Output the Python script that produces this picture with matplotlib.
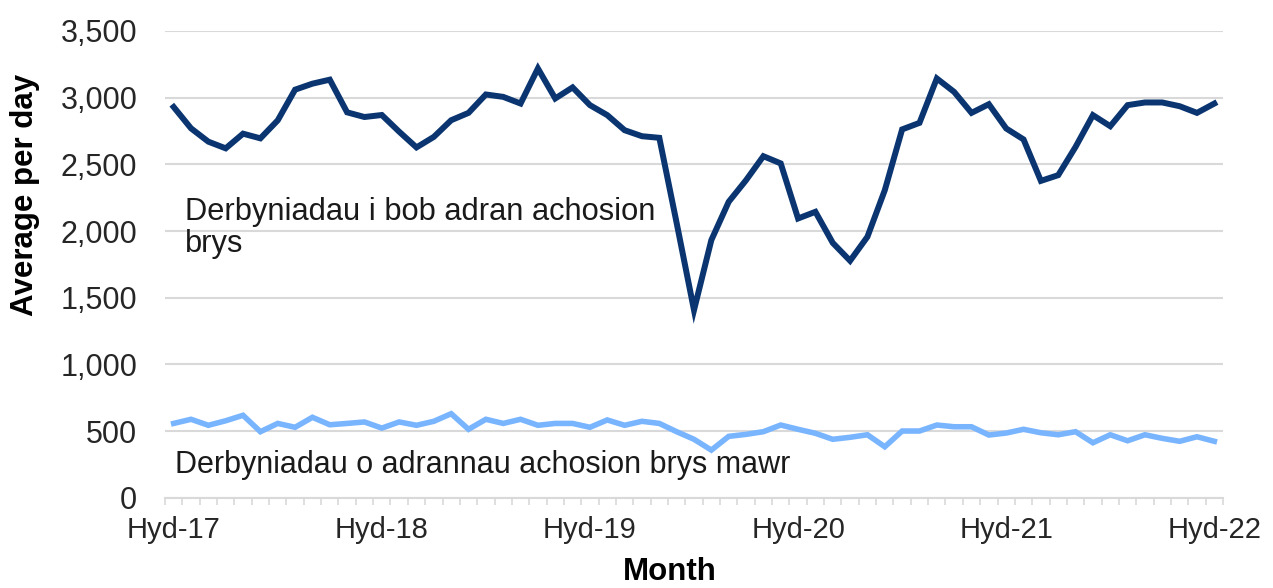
import numpy as np
import matplotlib
matplotlib.use("Agg")
import matplotlib.pyplot as plt
from matplotlib.ticker import FuncFormatter, MultipleLocator

plt.rcParams['font.family'] = ['Liberation Sans', 'DejaVu Sans']

# Monthly values, Hyd-17 (Oct 2017) to Hyd-22 (Oct 2022)
all_ed = [2930, 2770, 2670, 2620, 2730, 2695, 2830, 3060, 3105, 3135,
          2890, 2855, 2870, 2745, 2627, 2706, 2831, 2886, 3024, 3006,
          2956, 3219, 2994, 3077, 2944, 2869, 2756, 2711, 2699, 2060,
          1407, 1932, 2219, 2381, 2561, 2507, 2094, 2144, 1911, 1777,
          1957, 2306, 2762, 2811, 3144, 3043, 2886, 2951, 2769, 2687,
          2376, 2419, 2631, 2869, 2786, 2944, 2964, 2964, 2936, 2886,
          2956]
major_ed = [557, 588, 543, 577, 618, 495, 557, 528, 603, 547,
            557, 568, 522, 568, 543, 573, 630, 513, 588, 557,
            588, 543, 557, 557, 528, 583, 543, 573, 557, 495,
            438, 357, 460, 475, 495, 545, 513, 483, 438, 453,
            472, 382, 500, 500, 545, 532, 532, 470, 485, 513,
            487, 472, 495, 412, 472, 427, 472, 445, 423, 457,
            423]
tick_pos = [0, 12, 24, 36, 48, 60]
tick_labels = ['Hyd-17', 'Hyd-18', 'Hyd-19', 'Hyd-20', 'Hyd-21', 'Hyd-22']

label_all = 'Derbyniadau i bob adran achosion\nbrys'
label_major = 'Derbyniadau o adrannau achosion brys mawr'

fig = plt.figure(figsize=(12.73, 5.88), dpi=100)
ax = fig.add_axes([165 / 1273, 1 - 497.7 / 588, (1223 - 165) / 1273, (497.7 - 31) / 588])

x = np.arange(len(all_ed))
ax.plot(x, all_ed, color='#0A3570', lw=4.3, solid_joinstyle='miter', zorder=3)
ax.plot(x, major_ed, color='#79B5FF', lw=4.0, solid_joinstyle='miter', zorder=3)

ax.set_xlim(-0.5, len(all_ed) - 0.5)
ax.set_ylim(0, 3500)
ax.yaxis.set_major_locator(MultipleLocator(500))
ax.yaxis.set_major_formatter(FuncFormatter(lambda v, p: f'{int(v):,}'))
ax.grid(axis='y', color='#D9D9D9', lw=1.5, zorder=0)
ax.set_axisbelow(True)

ax.set_xticks(tick_pos)
ax.set_xticklabels(tick_labels)
ax.set_xticks(np.arange(-0.5, len(all_ed)), minor=True)
ax.tick_params(axis='x', which='major', length=0, pad=13, labelsize=21, labelcolor='#262626')
ax.tick_params(axis='x', which='minor', length=5, width=1.2, color='#D9D9D9', direction='out')
ax.tick_params(axis='y', length=0, pad=20, labelsize=22, labelcolor='#262626')

for side in ['top', 'right', 'left']:
    ax.spines[side].set_visible(False)
ax.spines['bottom'].set_color('#D9D9D9')
ax.spines['bottom'].set_linewidth(1.5)

ax.text(0.64, 2255, label_all, fontsize=22.2, color='#1a1a1a', va='top', ha='left', linespacing=1.08)
ax.text(0.05, 245, label_major, fontsize=22, color='#1a1a1a', va='center', ha='left')

fig.text(25 / 1273, 1 - 195 / 588, 'Average per day', rotation=90, fontsize=22.5,
         fontweight='bold', ha='center', va='center', color='#000000')
fig.text(670 / 1273, 1 - 572 / 588, 'Month', fontsize=22.5, fontweight='bold',
         ha='center', va='center', color='#000000')

fig.savefig('out.png', dpi=100)
